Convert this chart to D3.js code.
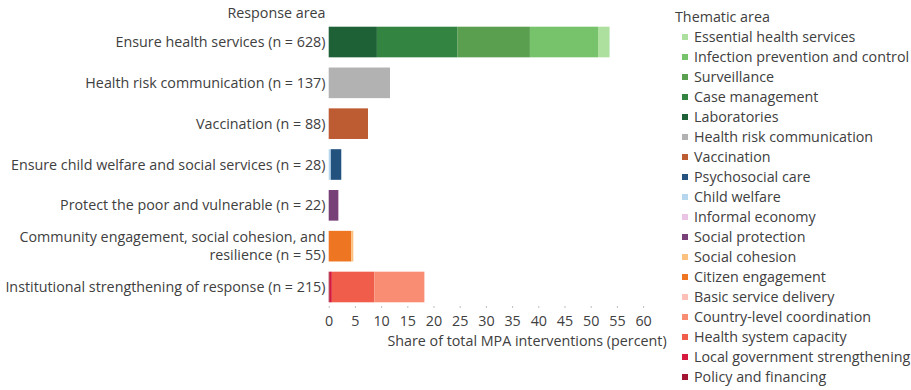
<!DOCTYPE html>
<html>
<head>
<meta charset="utf-8">
<script src="https://cdn.jsdelivr.net/npm/d3@7"></script>
<style>
  html, body { margin: 0; padding: 0; background: #fff; }
  svg { display: block; font-family: "Open Sans", Lato, sans-serif; }
</style>
</head>
<body>
<svg id="chart" width="911" height="390"></svg>
<script>
// ---- Data ----
const responseAreas = [
  "Ensure health services",
  "Health risk communication",
  "Vaccination",
  "Ensure child welfare and social services",
  "Protect the poor and vulnerable",
  "Community engagement, social cohesion, and resilience",
  "Institutional strengthening of response"
];
const counts = [628, 137, 88, 28, 22, 55, 215];

// Legend order (top to bottom); stacks are drawn in reverse of this order
const thematicAreas = [
  "Essential health services",
  "Infection prevention and control",
  "Surveillance",
  "Case management",
  "Laboratories",
  "Health risk communication",
  "Vaccination",
  "Psychosocial care",
  "Child welfare",
  "Informal economy",
  "Social protection",
  "Social cohesion",
  "Citizen engagement",
  "Basic service delivery",
  "Country-level coordination",
  "Health system capacity",
  "Local government strengthening",
  "Policy and financing"
];

// Share (percent) of each thematic area in each response area (aligned with responseAreas)
const shares = [
  [2.2, 0, 0, 0, 0, 0, 0],    // Essential health services
  [13.0, 0, 0, 0, 0, 0, 0],   // Infection prevention and control
  [13.8, 0, 0, 0, 0, 0, 0],   // Surveillance
  [15.4, 0, 0, 0, 0, 0, 0],   // Case management
  [9.2, 0, 0, 0, 0, 0, 0],    // Laboratories
  [0, 11.7, 0, 0, 0, 0, 0],   // Health risk communication
  [0, 0, 7.5, 0, 0, 0, 0],    // Vaccination
  [0, 0, 0, 2.0, 0, 0, 0],    // Psychosocial care
  [0, 0, 0, 0.4, 0, 0, 0],    // Child welfare
  [0, 0, 0, 0, 0.05, 0, 0],   // Informal economy
  [0, 0, 0, 0, 1.85, 0, 0],   // Social protection
  [0, 0, 0, 0, 0, 0.4, 0],    // Social cohesion
  [0, 0, 0, 0, 0, 4.3, 0],    // Citizen engagement
  [0, 0, 0, 0, 0, 0, 0.05],   // Basic service delivery
  [0, 0, 0, 0, 0, 0, 9.55],   // Country-level coordination
  [0, 0, 0, 0, 0, 0, 8.1],    // Health system capacity
  [0, 0, 0, 0, 0, 0, 0.4],    // Local government strengthening
  [0, 0, 0, 0, 0, 0, 0.2]     // Policy and financing
];

const xTicks = [0, 5, 10, 15, 20, 25, 30, 35, 40, 45, 50, 55, 60];

const palette = [
  "#addf9f", "#77c36b", "#5a9e4f", "#338441", "#1f6137",
  "#b2b2b2", "#bd5b33", "#23527f", "#b6d7ee", "#e9c4e4",
  "#774178", "#fcc07f", "#ee7521", "#fcc0b8", "#f88d74",
  "#f05d4b", "#d6193e", "#a11532"
];

// ---- Build table ----
const rows = responseAreas.map((name, i) => {
  const r = { name, label: `${name} (n = ${counts[i]})` };
  thematicAreas.forEach((t, j) => { r[t] = shares[j][i]; });
  return r;
});

const stackKeys = thematicAreas.slice().reverse();
const series = d3.stack().keys(stackKeys)(rows);

// ---- Scales ----
const svg = d3.select("#chart");
const textColor = "#404040";
const fontSize = 14.3;

const x = d3.scaleLinear().domain([0, 60]).range([328.7, 643.1]);
const y = d3.scaleBand().domain(responseAreas).range([21.6, 307.4])
  .paddingInner(0.25).paddingOuter(0.125);
const color = d3.scaleOrdinal().domain(thematicAreas).range(palette);

// ---- Bars ----
svg.append("g").selectAll("g").data(series).join("g")
  .attr("fill", d => color(d.key))
  .selectAll("rect").data(d => d.map(v => ({ v, key: d.key }))).join("rect")
  .attr("x", d => x(d.v[0]))
  .attr("width", d => Math.max(0, x(d.v[1]) - x(d.v[0])))
  .attr("y", d => y(d.v.data.name))
  .attr("height", y.bandwidth());

// ---- Category labels ----
const labelRight = 325.5;
svg.append("text")
  .attr("x", labelRight).attr("y", 13)
  .attr("dy", "0.35em")
  .attr("text-anchor", "end")
  .attr("fill", textColor).attr("font-size", fontSize)
  .text("Response area");

const labelG = svg.append("g");
rows.forEach(r => {
  const t = labelG.append("text")
    .attr("text-anchor", "end")
    .attr("fill", textColor).attr("font-size", fontSize);
  // wrap to available width
  const words = r.label.split(" ");
  const maxW = labelRight;
  const lines = [];
  let line = [];
  const probe = labelG.append("text").attr("font-size", fontSize);
  words.forEach(w => {
    const test = line.concat(w).join(" ");
    probe.text(test);
    if (probe.node().getComputedTextLength() > maxW && line.length) {
      lines.push(line.join(" "));
      line = [w];
    } else line.push(w);
  });
  lines.push(line.join(" "));
  probe.remove();
  const cy = y(r.name) + y.bandwidth() / 2;
  const lh = 18;
  lines.forEach((ln, k) => {
    t.append("tspan")
      .attr("x", labelRight)
      .attr("y", cy + (k - (lines.length - 1) / 2) * lh)
      .attr("dy", "0.35em")
      .text(ln);
  });
});

// ---- X axis ----
const axis = svg.append("g")
  .attr("transform", `translate(0,${306})`)
  .call(d3.axisBottom(x).tickValues(xTicks).tickSize(2).tickPadding(8).tickFormat(d3.format("d")));
axis.select(".domain").remove();
axis.selectAll(".tick line").attr("stroke", "#bfbfbf");
axis.selectAll(".tick text")
  .attr("fill", textColor).attr("font-size", fontSize)
  .attr("font-family", "'Open Sans', Lato, sans-serif");

svg.append("text")
  .attr("x", 527).attr("y", 341)
  .attr("dy", "0.35em")
  .attr("text-anchor", "middle")
  .attr("fill", textColor).attr("font-size", fontSize)
  .text("Share of total MPA interventions (percent)");

// ---- Legend ----
const legend = svg.append("g");
legend.append("text")
  .attr("x", 675).attr("y", 17)
  .attr("dy", "0.35em")
  .attr("fill", textColor).attr("font-size", fontSize)
  .text("Thematic area");

const item = legend.selectAll("g.item").data(thematicAreas).join("g")
  .attr("class", "item")
  .attr("transform", (d, i) => `translate(0,${37 + i * 20})`);
item.append("rect")
  .attr("x", 682).attr("y", -3).attr("width", 6).attr("height", 6)
  .attr("fill", d => color(d));
item.append("text")
  .attr("x", 694).attr("y", 0).attr("dy", "0.35em")
  .attr("fill", textColor).attr("font-size", fontSize)
  .text(d => d);
</script>
</body>
</html>
